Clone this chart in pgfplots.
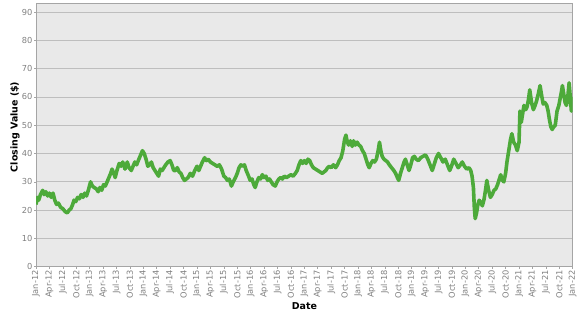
\documentclass[border=0pt]{standalone}
\usepackage{pgfplots}
\pgfplotsset{compat=1.18}
\usepackage{fontspec}
\setmainfont{DejaVu Sans}
\definecolor{linegreen}{RGB}{77,170,58}
\definecolor{plotbg}{RGB}{233,233,233}
\definecolor{gridc}{RGB}{190,190,190}
\definecolor{framec}{RGB}{165,165,165}
\definecolor{tickc}{RGB}{128,128,128}
\begin{document}
\begin{tikzpicture}
\path[use as bounding box] (0,0) rectangle (577bp,315bp);
\begin{axis}[
  at={(36bp,48.3bp)}, anchor=south west,
  scale only axis, width=536.7bp, height=263.7bp,
  xmin=0, xmax=120, ymin=0, ymax=93.2,
  axis background/.style={fill=plotbg},
  axis line style={framec, line width=0.8pt},
  ymajorgrids, grid style={gridc, line width=0.8pt},
  ytick={0,10,...,90},
  xtick={0,3,...,120},
  xticklabels={Jan-12,Apr-12,Jul-12,Oct-12,Jan-13,Apr-13,Jul-13,Oct-13,Jan-14,Apr-14,Jul-14,Oct-14,Jan-15,Apr-15,Jul-15,Oct-15,Jan-16,Apr-16,Jul-16,Oct-16,Jan-17,Apr-17,Jul-17,Oct-17,Jan-18,Apr-18,Jul-18,Oct-18,Jan-19,Apr-19,Jul-19,Oct-19,Jan-20,Apr-20,Jul-20,Oct-20,Jan-21,Apr-21,Jul-21,Oct-21,Jan-22},
  tick align=outside, major tick length=2bp, tick style={framec, line width=0.6pt},
  xtick pos=bottom, ytick pos=left,
  /pgf/number format/assume math mode=true,
  ticklabel style={font=\fontsize{8.3}{9}\selectfont, text=tickc},
  xticklabel style={rotate=90, anchor=east, inner sep=1.5bp},
  yticklabel style={inner sep=1.5bp},
  xlabel={Date}, ylabel={Closing Value (\$)},
  every axis x label/.style={at={(axis description cs:0.5,0)}, anchor=center, yshift=-39bp, font=\fontsize{9.5}{11}\selectfont\bfseries},
  every axis y label/.style={at={(axis description cs:0,0.53)}, xshift=-21bp, rotate=90, anchor=center, font=\fontsize{9.5}{11}\selectfont\bfseries},
]
\addplot[linegreen, line width=3.6bp, line join=round] coordinates {
(0,22) (0.3,24.5) (0.6,23.5) (1.0,25.5) (1.5,27) (1.8,25.5) (2.2,26.5) (2.6,25) (3.0,26) (3.4,24.5) (3.8,26) (4.2,23.5) (4.6,22) (5.0,22.5) (5.5,21) (6.0,20.5) (6.5,19.5) (7.0,19) (7.4,20) (7.8,20.5) (8.2,22) (8.5,23.5) (8.9,23) (9.3,24.5) (9.7,24) (10.1,25.5) (10.5,24.5) (10.9,26) (11.3,25) (11.7,27)
(12.2,30) (12.6,28.5) (13.0,28) (13.5,27.5) (13.9,26.5) (14.3,28) (14.7,27) (15.1,29) (15.5,28.5) (15.9,30) (16.3,31.5) (16.7,33) (17.0,34.5) (17.4,33) (17.7,31.5) (18.1,34) (18.6,36.5) (19.0,35.5) (19.4,37) (19.9,34.5) (20.4,37) (20.8,35) (21.3,34) (21.7,35.5) (22.1,37) (22.5,36) (23.0,38) (23.4,39.5) (23.8,41)
(24.2,40) (24.6,38) (25.0,35.5) (25.4,36) (25.8,37) (26.2,35) (26.6,34) (27.0,33) (27.4,32) (27.8,34.5) (28.2,34) (28.6,35) (29.0,36) (29.5,37) (30.0,37.5) (30.4,36) (30.8,34) (31.2,34) (31.6,35) (32.0,33.5) (32.4,33) (32.8,31.5) (33.2,30.5) (33.6,31) (34.0,31.5) (34.5,33) (35.0,32) (35.5,34)
(36.0,35.5) (36.4,34) (36.8,35.5) (37.2,37) (37.7,38.5) (38.1,37.5) (38.5,38) (39.0,37) (39.5,36.5) (40.0,36) (40.5,35.5) (41.0,36) (41.5,34.5) (42.0,32) (42.4,31.5) (42.8,30.5) (43.2,31) (43.7,28.5) (44.1,30) (44.6,31.5) (45.0,33) (45.4,35) (45.8,36) (46.2,35.5) (46.6,36) (47.0,34) (47.4,32.5) (47.9,30.5)
(48.3,31) (48.7,29) (49.0,28) (49.4,30) (49.8,31.5) (50.2,31) (50.6,32.5) (51.0,31.5) (51.4,32) (51.8,30.5) (52.2,31) (52.6,30) (53.0,29) (53.5,28.5) (53.9,30) (54.3,31) (54.7,31.5) (55.1,31) (55.5,32) (56.0,31.5) (56.5,32) (57.0,32.5) (57.5,32) (58.0,33) (58.4,34) (58.8,36) (59.2,37.5) (59.6,36.5)
(60.0,37.5) (60.4,36.5) (60.8,38) (61.2,37.5) (61.6,36) (62.0,35) (62.5,34.5) (63.0,34) (63.5,33.5) (64.0,33) (64.4,33.5) (64.8,34) (65.2,35) (65.6,35.5) (66.0,35) (66.5,36) (67.0,35) (67.4,36) (67.8,37.5) (68.2,38.5) (68.6,41) (69.0,45) (69.3,46.5) (69.6,44) (69.9,43) (70.3,44.5) (70.7,42.5) (71.0,44.5) (71.4,43) (71.8,44)
(72.2,43) (72.6,42.5) (73.0,41) (73.4,40) (73.8,38) (74.2,36) (74.5,35) (74.9,36.5) (75.3,37.5) (75.7,37) (76.1,38) (76.5,41) (76.8,44) (77.1,41) (77.4,39) (77.8,38) (78.2,37.5) (78.6,37) (79.0,36) (79.5,35) (80.0,34) (80.4,33) (80.8,31.5) (81.1,30.5) (81.5,33) (81.9,35) (82.3,37) (82.6,38) (83.0,36) (83.4,34) (83.8,36)
(84.2,38.5) (84.6,39) (85.0,38) (85.5,37.5) (86.0,38.5) (86.5,39) (87.1,39.5) (87.6,38) (88.1,36) (88.6,34) (89.0,36) (89.5,38.5) (90.0,40) (90.5,38.5) (91.0,37) (91.5,38) (92.0,36) (92.5,34) (92.9,35.5) (93.4,38) (93.9,36.5) (94.4,35) (94.9,36) (95.3,37) (95.8,35.5)
(96.3,34.5) (96.8,35) (97.2,34) (97.5,32) (97.8,28) (98.0,21) (98.2,17) (98.5,19) (98.8,22) (99.1,23.5) (99.5,22.5) (99.8,21.5) (100.2,24) (100.5,27) (100.8,30.5) (101.2,27) (101.6,24.5) (102.0,25.5) (102.4,27) (102.8,27.5) (103.2,29) (103.6,31) (103.9,32.5) (104.3,30.5) (104.6,30) (105.0,33) (105.3,37) (105.7,41) (106.1,45) (106.4,47) (106.8,44) (107.2,43) (107.6,41)
(108.0,44) (108.2,55) (108.5,51) (108.8,54) (109.1,57) (109.5,55.5) (109.8,56.5) (110.1,59) (110.4,62.5) (110.8,58) (111.2,55.5) (111.6,57) (111.9,58.5) (112.3,61) (112.7,64) (113.0,61) (113.4,57.5) (113.8,58) (114.2,57) (114.5,55) (114.8,52) (115.1,49.5) (115.4,48.5) (115.8,49.5) (116.1,50) (116.5,55) (116.9,57) (117.2,59.5) (117.5,62) (117.7,64) (118.0,61) (118.3,58) (118.6,57) (118.9,60) (119.2,65) (119.5,59) (119.7,55) (120.0,60)
};
\end{axis}
\end{tikzpicture}
\end{document}
